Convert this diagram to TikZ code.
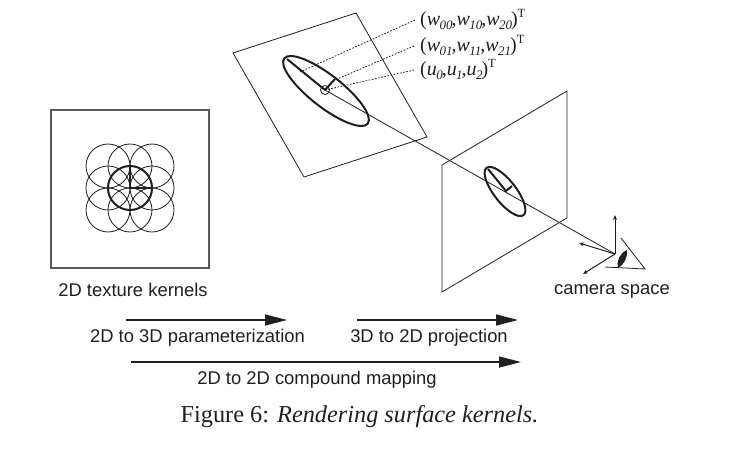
\documentclass[tikz,border=0pt]{standalone}
\usepackage{fontspec}
\setmainfont{Liberation Serif}
\setsansfont{Liberation Sans}
\usetikzlibrary{arrows.meta}
\definecolor{ink}{gray}{0.12}
\tikzset{
  x=1pt,y=-1pt,
  thin line/.style={draw=ink,line width=0.8pt},
  bold line/.style={draw=ink,line width=2pt},
  sight/.style={draw=ink,line width=0.8pt,dash pattern=on 1.6pt off 1.6pt},
  frame line/.style={draw=black!65,line width=1.1pt},
  big arrow/.style={draw=ink,line width=1.4pt,-{Triangle[length=22pt,width=11pt]}},
  small arrow/.style={draw=ink,line width=1pt,-{Stealth[length=5pt,width=4pt]}},
  sans label/.style={font=\sffamily\fontsize{18.4}{20}\selectfont,text=ink,inner sep=0pt},
  vec label/.style={font=\fontsize{20}{22}\selectfont,text=ink,inner sep=0pt,anchor=west},
}
\newcommand{\lowidx}[1]{\kern-0.6pt\raisebox{-3.5pt}{\fontsize{13}{13}\selectfont\itshape #1}\kern-1pt}
\newcommand{\highidx}[1]{\raisebox{8pt}{\fontsize{12.5}{13}\selectfont #1}}
\begin{document}
\begin{tikzpicture}
\useasboundingbox (0,0) rectangle (750,470);
% texture panel
\draw[frame line] (51,110) rectangle (209,268);
\foreach \i in {-1,0,1}\foreach \j in {-1,0,1}
  \draw[thin line] (130+22*\i,188+22*\j) circle[radius=22];
\coordinate (kc) at (130,188);
\draw[bold line] (kc) circle[radius=22];
\draw[bold line] (130,166) -- (kc) -- (152,188);
% parameter plane
\coordinate (a1) at (233,53); \coordinate (a2) at (356,13);
\coordinate (a3) at (427,137); \coordinate (a4) at (304,177);
\draw[thin line] (a1) -- (a2) -- (a3) -- (a4) -- cycle;
\coordinate (c1) at (325,90);
\draw[bold line] (326,91) ellipse[x radius=53,y radius=16,rotate=-38];
\draw[bold line] (287,59) -- (c1) (c1) -- (335,79);
\draw[thin line] (c1) circle[radius=4.5];
% image plane
\coordinate (b1) at (442,165); \coordinate (b2) at (567,91);
\coordinate (b3) at (567,218); \coordinate (b4) at (442,292);
\draw[thin line] (b1) -- (b2) -- (b3) -- (b4) -- cycle;
\coordinate (c2) at (506,191);
\draw[bold line] (505,191.5) ellipse[x radius=30,y radius=11,rotate=-52];
\draw[bold line] (488,169) -- (c2) -- (512,186);
% sight line and camera
\coordinate (eye) at (615,254);
\draw[thin line] (c1) -- (eye);
\draw[small arrow] (eye) -- (615,215);
\draw[small arrow] (eye) -- (579,243);
\draw[small arrow] (eye) -- (583,274);
\coordinate (t1) at (621,238); \coordinate (t2) at (645,269); \coordinate (t3) at (605,267);
\draw[thin line] (t1) -- (t2) -- (t3);
\fill[ink] (627,250) .. controls (620,253) and (616,261) .. (618,268) .. controls (624,265) and (628,257) .. (627,250) -- cycle;
% vector labels
\node[vec label] (v1) at (420,20) {(\textit{w}\lowidx{00},\textit{w}\lowidx{10},\textit{w}\lowidx{20})\highidx{T}};
\node[vec label] (v2) at (420,46) {(\textit{w}\lowidx{01},\textit{w}\lowidx{11},\textit{w}\lowidx{21})\highidx{T}};
\node[vec label] (v3) at (420,70) {(\textit{u}\lowidx{0},\textit{u}\lowidx{1},\textit{u}\lowidx{2})\highidx{T}};
\draw[sight] (v1.west) ++(-5,0) -- (300,72);
\draw[sight] (v2.west) ++(-6,0) -- (335,80);
\draw[sight] (v3.west) ++(-6,0) -- (c1);
% labels
\node[sans label] (l1) at (133,290) {2D texture kernels};
\node[sans label] (l2) at (612,291.5) {camera space};
\coordinate (p1) at (126,320); \coordinate (p2) at (287,320);
\coordinate (p3) at (357,320); \coordinate (p4) at (518,320);
\coordinate (p5) at (131,362); \coordinate (p6) at (521,362);
\draw[big arrow] (p1) -- (p2);
\draw[big arrow] (p3) -- (p4);
\draw[big arrow] (p5) -- (p6);
\node[sans label] (l3) at (197.5,338) {2D to 3D parameterization};
\node[sans label] (l4) at (429,338) {3D to 2D projection};
\node[sans label] (l5) at (317,380) {2D to 2D compound mapping};
\node[font=\fontsize{24.3}{28}\selectfont,text=ink,inner sep=0pt] (cap) at (359.5,417) {Figure 6: \textit{Rendering surface kernels.}};
\end{tikzpicture}
\end{document}
